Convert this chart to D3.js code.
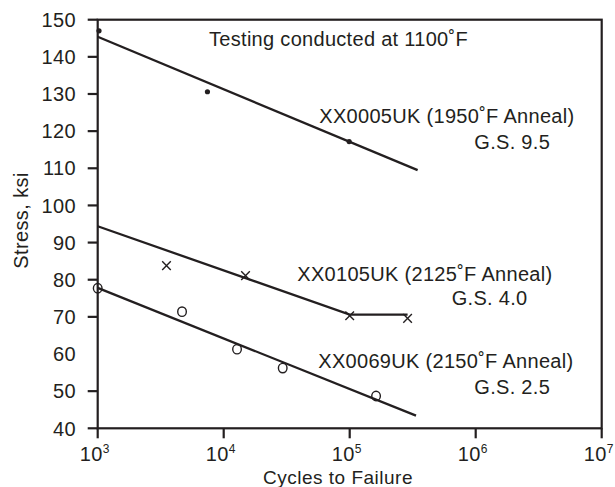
<!DOCTYPE html>
<html><head><meta charset="utf-8">
<script src="https://cdn.jsdelivr.net/npm/d3@7"></script>
<style>
html,body{margin:0;padding:0;background:#fff;}
text{font-family:"Liberation Sans",Arial,Helvetica,sans-serif;fill:#231f20;}
</style></head>
<body>
<svg id="chart" width="615" height="487"></svg>
<script>
// ---- data ----
const xTicks = [1e3, 1e4, 1e5, 1e6, 1e7];
const xTickExponents = ["3", "4", "5", "6", "7"];
const yTicks = [40, 50, 60, 70, 80, 90, 100, 110, 120, 130, 140, 150];
const yTicksWithMark = [40, 50, 70, 80, 90, 100, 110, 120, 130, 140, 150];

const seriesA_points = [[1024, 147.0], [7430, 130.6], [99000, 117.2]];
const seriesA_fit = [[1000, 145.4], [346000, 109.5]];
const seriesB_points = [[3515, 83.8], [14900, 81.1], [100000, 70.3], [288000, 69.6]];
const seriesB_fit = [[1000, 94.4], [100000, 70.6], [288000, 70.6]];
const seriesC_points = [[1000, 77.7], [4670, 71.4], [12760, 61.3], [29400, 56.2], [161900, 48.7]];
const seriesC_fit = [[1000, 77.8], [336000, 43.4]];

const annotationTexts = [
  "Testing conducted at 1100˚F",
  "XX0005UK (1950˚F Anneal)", "G.S. 9.5",
  "XX0105UK (2125˚F Anneal)", "G.S. 4.0",
  "XX0069UK (2150˚F Anneal)", "G.S. 2.5"
];

// ---- layout ----
const ink = "#231f20";
const L = 97.7, R = 601.7, T = 19.7, B = 428.3;
const svg = d3.select("#chart");
const x = d3.scaleLog().domain([1e3, 1e7]).range([L, R]);
const y = d3.scaleLinear().domain([40, 150]).range([B, T]);

// frame
svg.append("rect").attr("x", L).attr("y", T).attr("width", R - L).attr("height", B - T)
  .attr("fill", "none").attr("stroke", ink).attr("stroke-width", 2.2);

// y ticks
const gy = svg.append("g");
gy.selectAll("line").data(yTicksWithMark).join("line")
  .attr("x1", L - 10).attr("x2", L).attr("y1", d => y(d)).attr("y2", d => y(d))
  .attr("stroke", ink).attr("stroke-width", 2.2);
gy.selectAll("text").data(yTicks).join("text")
  .attr("x", 76).attr("y", d => y(d)).attr("dy", "0.36em")
  .attr("text-anchor", "end").attr("font-size", 20).attr("letter-spacing", 0.4)
  .text(d => d);

// x ticks
const gx = svg.append("g");
gx.selectAll("line").data(xTicks).join("line")
  .attr("x1", d => x(d)).attr("x2", d => x(d)).attr("y1", B).attr("y2", B + 10)
  .attr("stroke", ink).attr("stroke-width", 2.2);
const xl = gx.selectAll("text").data(xTicks).join("text")
  .attr("x", d => x(d) - 3).attr("y", 460.5).attr("text-anchor", "middle")
  .attr("font-size", 20).attr("letter-spacing", 0.4);
xl.append("tspan").text("10");
xl.append("tspan").attr("font-size", 12).attr("dy", -8).text((d, i) => xTickExponents[i]);

// axis titles
svg.append("text").attr("x", 338).attr("y", 483.5).attr("text-anchor", "middle")
  .attr("font-size", 19).attr("letter-spacing", 0.5).text("Cycles to Failure");
svg.append("text").attr("transform", "translate(28,220.5) rotate(-90)").attr("text-anchor", "middle")
  .attr("font-size", 20).attr("letter-spacing", 0.4).text("Stress, ksi");

// fit lines
const line = d3.line().x(d => x(d[0])).y(d => y(d[1]));
[seriesA_fit, seriesB_fit, seriesC_fit].forEach(f => {
  svg.append("path").attr("d", line(f)).attr("fill", "none")
    .attr("stroke", ink).attr("stroke-width", 2.3);
});

// markers
svg.append("g").selectAll("circle").data(seriesA_points).join("circle")
  .attr("cx", d => x(d[0])).attr("cy", d => y(d[1])).attr("r", 2.6).attr("fill", ink);
svg.append("g").selectAll("path").data(seriesB_points).join("path")
  .attr("d", d => {
    const cx = x(d[0]), cy = y(d[1]), s = 4.3;
    return `M${cx - s},${cy - s}L${cx + s},${cy + s}M${cx + s},${cy - s}L${cx - s},${cy + s}`;
  })
  .attr("stroke", ink).attr("stroke-width", 1.4).attr("fill", "none");
svg.append("g").selectAll("ellipse").data(seriesC_points).join("ellipse")
  .attr("cx", d => x(d[0])).attr("cy", d => y(d[1])).attr("rx", 4.3).attr("ry", 4.7)
  .attr("fill", "none").attr("stroke", ink).attr("stroke-width", 1.4);

// annotations (pixel anchors only; texts come from annotationTexts)
const annPos = [[209, 45.7], [319.3, 123.3], [474.3, 149], [297.3, 280.7], [451.7, 305], [318.3, 368.3], [474.3, 394]];
svg.append("g").selectAll("text").data(annotationTexts).join("text")
  .attr("x", (d, i) => annPos[i][0]).attr("y", (d, i) => annPos[i][1])
  .attr("font-size", 20).attr("letter-spacing", 0.3)
  .text(d => d);
</script>
</body></html>
